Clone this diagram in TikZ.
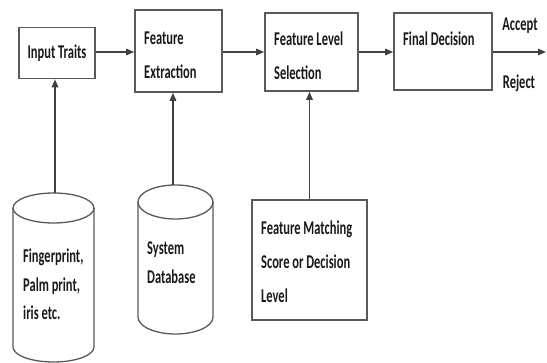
\documentclass[tikz,border=0pt]{standalone}
\usepackage{fontspec}
\newfontfamily\diagfont{Carlito}[FakeStretch=0.64]
\usetikzlibrary{arrows.meta}
\begin{document}
\begin{tikzpicture}[x=1pt,y=-1pt,
  every node/.style={font=\diagfont\bfseries\fontsize{19.5}{34}\selectfont,text=black!90},
  blk/.style={draw=black!65,line width=1.6pt,inner sep=0pt},
  dbline/.style={draw=black!65,line width=1.3pt},
  txt/.style={align=left,inner sep=0pt,anchor=north west},
  link/.style={draw=black!75,line width=1.3pt,-{Triangle[length=8pt,width=6.5pt]}}]
  \useasboundingbox (0,0) rectangle (547,363);
  % processing chain
  \node[blk,minimum width=76pt,minimum height=51pt] (trait) at (57,53) {Input Traits};
  \node[blk,minimum width=87pt,minimum height=82pt] (extr) at (178.5,51) {};
  \node[blk,minimum width=93pt,minimum height=78pt] (sel) at (311.5,52) {};
  \node[blk,minimum width=98pt,minimum height=77pt] (dec) at (443,51.5) {};
  \node[txt] (extrtxt) at (144,32) {Feature\\Extraction};
  \node[txt] (seltxt) at (274,32) {Feature Level\\Selection};
  \node[txt] (dectxt) at (403,32) {Final Decision};
  \coordinate (out) at (546,52);
  \node (acc) at (520,26) {Accept};
  \node (rej) at (519,83) {Reject};
  % inputs below (two cylinders, one box)
  \draw[dbline] (13,208) -- (13,347) arc[start angle=180,end angle=0,x radius=40.5,y radius=15] -- (94,208);
  \draw[dbline] (53.5,208) ellipse[x radius=40.5,y radius=15];
  \coordinate (srctop) at (55,193);
  \draw[dbline] (138,202) -- (138,317) arc[start angle=180,end angle=0,x radius=37.5,y radius=17] -- (213,202);
  \draw[dbline] (175.5,202) ellipse[x radius=37.5,y radius=17];
  \coordinate (dbtop) at (173,185);
  \node[blk,minimum width=115pt,minimum height=120pt] (match) at (309.5,260) {};
  \node[txt,font=\diagfont\bfseries\fontsize{19.5}{28.5}\selectfont] (srctxt) at (23,249) {Fingerprint,\\Palm print,\\iris etc.};
  \node[txt,font=\diagfont\bfseries\fontsize{19.5}{29}\selectfont] (dbtxt) at (147,242) {System\\Database};
  \node[txt] (matchtxt) at (261,221) {Feature Matching\\Score or Decision\\Level};
  % connectors
  \draw[link] (trait.east |- 0,52) -- (extr.west |- 0,52);
  \draw[link] (extr.east |- 0,52) -- (sel.west |- 0,52);
  \draw[link] (sel.east |- 0,52) -- (dec.west |- 0,52);
  \draw[link] (dec.east |- out) -- (out);
  \draw[link] (srctop) -- (srctop |- trait.south);
  \draw[link] (dbtop) -- (dbtop |- extr.south);
  \draw[link] (match.north) -- (match.north |- sel.south);
\end{tikzpicture}
\end{document}
